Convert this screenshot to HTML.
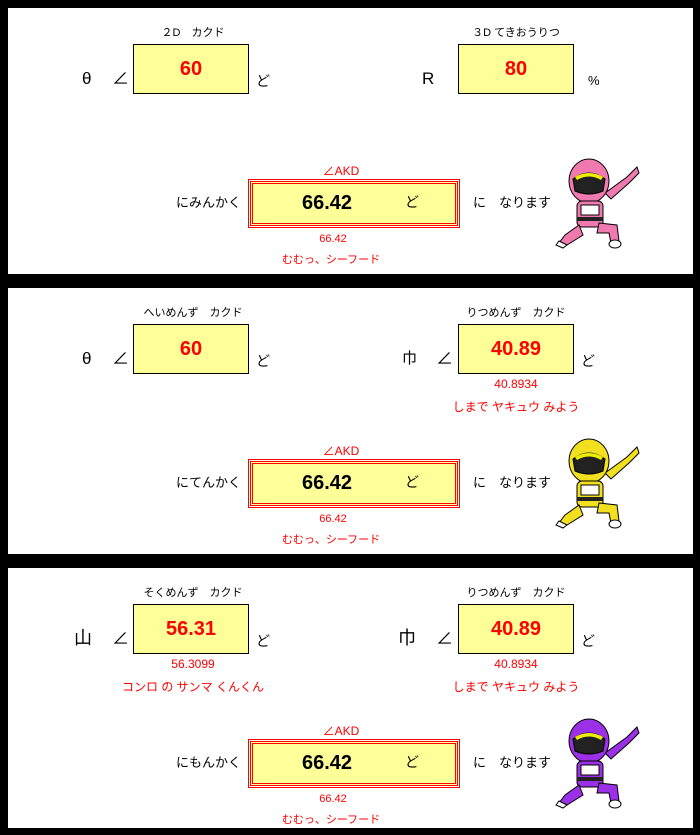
<!DOCTYPE html>
<html><head><meta charset="utf-8"><style>
body{margin:0;width:700px;height:835px;background:#000;position:relative;overflow:hidden;font-family:"Liberation Sans","Noto Sans CJK JP",sans-serif}
.p{position:absolute;left:8px;width:685px;background:#fff}
.t{position:absolute;white-space:nowrap;line-height:1}
.box{position:absolute;width:114px;height:48px;border:1px solid #000;background:#ffff99;color:#f00;font-weight:bold;font-size:20px;text-align:center;line-height:48px}
.big{position:absolute;width:202px;height:39px;border:3px double #f00;outline:1px solid #f00;outline-offset:1px;background:#ffff99}
.r{color:#f00}
.c{transform:translateX(-50%)}
</style></head><body>

<!-- panel 1 -->
<div class="p" style="top:8px;height:266px">
<div class="t c" style="left:185px;top:20px;font-size:11px">２D　カクド</div>
<div class="box" style="left:125px;top:36px">60</div>
<div class="t" style="left:74px;top:62px;font-size:17px">θ</div>
<div class="t" style="left:104px;top:62px;font-size:17px">∠</div>
<div class="t" style="left:248px;top:66px;font-size:14px">ど</div>
<div class="t c" style="left:508px;top:20px;font-size:11px">３D てきおうりつ</div>
<div class="box" style="left:450px;top:36px">80</div>
<div class="t" style="left:414px;top:62px;font-size:17px">R</div>
<div class="t" style="left:580px;top:66px;font-size:13px">%</div>
</div>

<!-- panel 2 -->
<div class="p" style="top:288px;height:266px">
<div class="t c" style="left:185px;top:20px;font-size:11px">へいめんず　カクド</div>
<div class="box" style="left:125px;top:36px">60</div>
<div class="t" style="left:74px;top:62px;font-size:17px">θ</div>
<div class="t" style="left:104px;top:62px;font-size:17px">∠</div>
<div class="t" style="left:248px;top:66px;font-size:14px">ど</div>
<div class="t c" style="left:508px;top:20px;font-size:11px">りつめんず　カクド</div>
<div class="box" style="left:450px;top:36px">40.89</div>
<div class="t" style="left:394px;top:63px;font-size:15px">巾</div>
<div class="t" style="left:428px;top:62px;font-size:17px">∠</div>
<div class="t" style="left:573px;top:66px;font-size:14px">ど</div>
<div class="t c r" style="left:508px;top:90px;font-size:12px">40.8934</div>
<div class="t c r" style="left:508px;top:113px;font-size:12px">しまで ヤキュウ みよう</div>
</div>

<!-- panel 3 -->
<div class="p" style="top:568px;height:260px">
<div class="t c" style="left:185px;top:20px;font-size:11px">そくめんず　カクド</div>
<div class="box" style="left:125px;top:36px">56.31</div>
<div class="t" style="left:66px;top:61px;font-size:18px">山</div>
<div class="t" style="left:104px;top:62px;font-size:17px">∠</div>
<div class="t" style="left:248px;top:66px;font-size:14px">ど</div>
<div class="t c r" style="left:185px;top:90px;font-size:12px">56.3099</div>
<div class="t c r" style="left:185px;top:113px;font-size:12px">コンロ の サンマ くんくん</div>
<div class="t c" style="left:508px;top:20px;font-size:11px">りつめんず　カクド</div>
<div class="box" style="left:450px;top:36px">40.89</div>
<div class="t" style="left:390px;top:61px;font-size:18px">巾</div>
<div class="t" style="left:428px;top:62px;font-size:17px">∠</div>
<div class="t" style="left:573px;top:66px;font-size:14px">ど</div>
<div class="t c r" style="left:508px;top:90px;font-size:12px">40.8934</div>
<div class="t c r" style="left:508px;top:113px;font-size:12px">しまで ヤキュウ みよう</div>
</div>

<!-- bottom rows -->
<div id="rows"></div>
<script>
var words=["にみんかく","にてんかく","にもんかく"],cols=["#f07ab0","#f2e020","#9b30e6"],tops=[8,288,568];
var h="";
for(var i=0;i<3;i++){var T=tops[i];
h+='<div class="t c r" style="left:341px;top:'+(T+157)+'px;font-size:12px">∠AKD</div>';
h+='<div class="big" style="left:250px;top:'+(T+173)+'px"></div>';
h+='<div class="t" style="left:302px;top:'+(T+185)+'px;font-size:20px;font-weight:bold">66.42</div>';
h+='<div class="t" style="left:405px;top:'+(T+187)+'px;font-size:14px">ど</div>';
h+='<div class="t" style="left:176px;top:'+(T+188)+'px;font-size:13px">'+words[i]+'</div>';
h+='<div class="t" style="left:473px;top:'+(T+188)+'px;font-size:13px">に　なります</div>';
h+='<div class="t c r" style="left:333px;top:'+(T+226)+'px;font-size:11px">66.42</div>';
h+='<div class="t c r" style="left:331px;top:'+(T+247)+'px;font-size:11px">むむっ、シーフード</div>';
var c=cols[i];
h+='<svg style="position:absolute;left:555px;top:'+(T+147)+'px" width="90" height="95" viewBox="0 0 90 95">'+
'<path d="M50 38 L72 22 L82 12 L84 18 L74 28 L56 44Z" fill="'+c+'" stroke="#000"/>'+
'<ellipse cx="34" cy="26" rx="20" ry="22" fill="'+c+'" stroke="#000"/>'+
'<path d="M18 24 Q34 12 50 24 L48 36 Q34 42 20 36Z" fill="#222" stroke="#000"/>'+
'<path d="M20 22 Q34 14 48 22 L46 25 Q34 18 22 25Z" fill="#ee0"/>'+
'<rect x="22" y="46" width="26" height="26" rx="5" fill="'+c+'" stroke="#000"/>'+
'<rect x="26" y="50" width="18" height="10" fill="#fff" stroke="#000"/>'+
'<rect x="22" y="62" width="26" height="4" fill="#222"/>'+
'<path d="M24 70 L10 80 L4 88 L12 90 L28 80Z" fill="'+c+'" stroke="#000"/>'+
'<path d="M44 68 L62 70 L64 86 L56 88 L54 78 L42 78Z" fill="'+c+'" stroke="#000"/>'+
'<path d="M4 86 L12 90 L8 93 L1 90Z" fill="#fff" stroke="#000"/>'+
'<ellipse cx="60" cy="89" rx="6" ry="4" fill="#fff" stroke="#000"/>'+
'</svg>';
}
document.getElementById("rows").innerHTML=h;
</script>
</body></html>
